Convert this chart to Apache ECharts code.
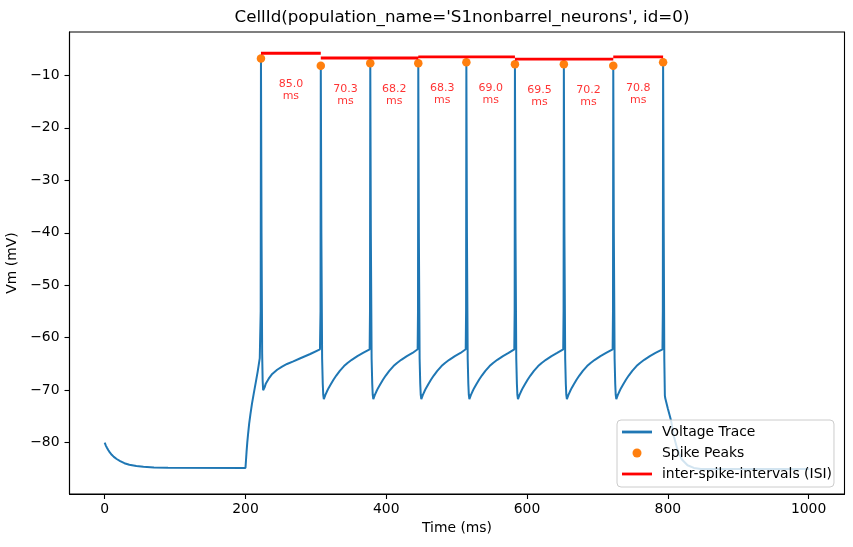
<!DOCTYPE html>
<html>
<head>
<meta charset="utf-8">
<script src="https://cdn.jsdelivr.net/npm/echarts@6/dist/echarts.min.js"></script>
<style>
  html, body { margin: 0; padding: 0; background: #fff; }
  #chart { width: 853px; height: 547px; }
</style>
</head>
<body>
<div id="chart"></div>
<script>
// spike times (ms) and peak voltages (mV)
const spikeTimes = [222.0, 307.0, 377.3, 445.5, 513.8, 582.8, 652.3, 722.5, 793.3];
const spikePeaks = [-6.8, -8.2, -7.7, -7.7, -7.5, -7.9, -7.9, -8.2, -7.5];

const xTicks = [0, 200, 400, 600, 800, 1000];
const yTicks = [-80, -70, -60, -50, -40, -30, -20, -10];

// voltage trace [t (ms), Vm (mV)]
const trace = [
  [0, -80], [1.5, -80.5], [3, -80.9], [5, -81.4], [7, -81.8], [10, -82.3], [13, -82.7], [17, -83.1], [22, -83.5], [28, -83.9], [35, -84.2], [45, -84.45], [55, -84.6], [70, -84.7], [90, -84.77], [200, -84.8],
  [200.8, -83.2], [201.6, -81.6], [202.6, -79.9], [203.8, -78.2], [205.2, -76.4], [207, -74.6], [209.2, -72.6], [211.8, -70.6], [214.5, -68.6], [217.4, -66.4], [220.3, -63.9],
  [221.6, -55], [222.0, -6.8], [222.8, -40], [223.7, -63], [224.4, -68.2], [225.1, -70.0], [225.9, -69.9], [227, -69.5], [229, -68.7], [233, -67.8], [238, -66.9], [245, -66.1], [252, -65.5], [259, -65.0], [268, -64.5], [278, -63.9], [292, -63.1], [305.8, -62.2],
  [306.6, -55], [307.0, -8.2], [307.8, -40], [308.9, -64], [309.8, -68.8], [310.5, -70.9], [311.3, -71.7], [312.2, -71.4], [313.5, -70.9], [315.5, -70.3], [318, -69.6], [321, -68.9], [325, -68.0], [329, -67.2], [334, -66.3], [340, -65.4], [345, -64.8], [351, -64.2], [359, -63.5], [367, -62.9], [376.4, -62.2],
  [376.9, -55], [377.3, -7.7], [378.1, -40], [379.2, -64], [380.1, -68.8], [380.8, -70.9], [381.6, -71.7], [382.5, -71.4], [383.8, -70.9], [385.8, -70.3], [388.3, -69.6], [391.3, -68.9], [395.3, -68.0], [399.3, -67.2], [404.3, -66.3], [410.3, -65.4], [415.3, -64.8], [421.3, -64.2], [429.3, -63.5], [437.3, -62.9], [444.6, -62.2],
  [445.1, -55], [445.5, -7.7], [446.3, -40], [447.4, -64], [448.3, -68.8], [449.0, -70.9], [449.8, -71.7], [450.7, -71.4], [452.0, -70.9], [454.0, -70.3], [456.5, -69.6], [459.5, -68.9], [463.5, -68.0], [467.5, -67.2], [472.5, -66.3], [478.5, -65.4], [483.5, -64.8], [489.5, -64.2], [497.5, -63.5], [505.5, -62.9], [512.9, -62.2],
  [513.4, -55], [513.8, -7.5], [514.6, -40], [515.7, -64], [516.6, -68.8], [517.3, -70.9], [518.1, -71.7], [519.0, -71.4], [520.3, -70.9], [522.3, -70.3], [524.8, -69.6], [527.8, -68.9], [531.8, -68.0], [535.8, -67.2], [540.8, -66.3], [546.8, -65.4], [551.8, -64.8], [557.8, -64.2], [565.8, -63.5], [573.8, -62.9], [581.9, -62.2],
  [582.4, -55], [582.8, -7.9], [583.6, -40], [584.7, -64], [585.6, -68.8], [586.3, -70.9], [587.1, -71.7], [588.0, -71.4], [589.3, -70.9], [591.3, -70.3], [593.8, -69.6], [596.8, -68.9], [600.8, -68.0], [604.8, -67.2], [609.8, -66.3], [615.8, -65.4], [620.8, -64.8], [626.8, -64.2], [634.8, -63.5], [642.8, -62.9], [651.4, -62.2],
  [651.9, -55], [652.3, -7.9], [653.1, -40], [654.2, -64], [655.1, -68.8], [655.8, -70.9], [656.6, -71.7], [657.5, -71.4], [658.8, -70.9], [660.8, -70.3], [663.3, -69.6], [666.3, -68.9], [670.3, -68.0], [674.3, -67.2], [679.3, -66.3], [685.3, -65.4], [690.3, -64.8], [696.3, -64.2], [704.3, -63.5], [712.3, -62.9], [721.6, -62.2],
  [722.1, -55], [722.5, -8.2], [723.3, -40], [724.4, -64], [725.3, -68.8], [726.0, -70.9], [726.8, -71.7], [727.7, -71.4], [729.0, -70.9], [731.0, -70.3], [733.5, -69.6], [736.5, -68.9], [740.5, -68.0], [744.5, -67.2], [749.5, -66.3], [755.5, -65.4], [760.5, -64.8], [766.5, -64.2], [774.5, -63.5], [782.5, -62.9], [792.4, -62.2],
  [792.9, -55], [793.3, -7.5], [794.2, -40], [795.0, -64], [795.8, -71.0], [796.3, -71.5], [797, -71.6], [800, -73.5], [804.5, -75.7], [808, -78.5], [813.4, -81.2], [820, -83.2], [828, -84.3], [837, -84.8], [847, -85.0], [1001, -85.0]
];

const isiLines = [];
const isiLabels = [];
for (let i = 0; i < spikeTimes.length - 1; i++) {
  const h = Math.max(spikePeaks[i], spikePeaks[i + 1]) + 1;
  isiLines.push([spikeTimes[i], h], [spikeTimes[i + 1], h], [spikeTimes[i + 1], null]);
  isiLabels.push({
    name: (spikeTimes[i + 1] - spikeTimes[i]).toFixed(1) + '\nms',
    value: [(spikeTimes[i] + spikeTimes[i + 1]) / 2, h - 7]
  });
}
const peaks = spikeTimes.map((t, i) => [t, spikePeaks[i]]);

const font = 'DejaVu Sans, sans-serif';
const minus = v => String(v).replace('-', '\u2212');
const lineIcon = 'path://M0,0H30V2.8H0Z';

const chart = echarts.init(document.getElementById('chart'));
chart.setOption({
  animation: false,
  backgroundColor: '#fff',
  textStyle: { fontFamily: font },
  title: {
    text: "CellId(population_name='S1nonbarrel_neurons', id=0)",
    left: 457, top: 4, textAlign: 'center',
    textStyle: { fontFamily: font, fontSize: 16.7, fontWeight: 'normal', color: '#000' }
  },
  grid: {
    left: 69.5, right: 8.5, top: 32, bottom: 53,
    containLabel: false, outerBoundsMode: 'none',
    show: true, borderColor: '#000', borderWidth: 1.1, backgroundColor: 'transparent'
  },
  legend: {
    orient: 'vertical', left: 617, top: 420,
    data: [
      { name: 'Voltage Trace', icon: lineIcon },
      { name: 'Spike Peaks', icon: 'circle' },
      { name: 'inter-spike-intervals (ISI)', icon: lineIcon }
    ],
    itemWidth: 30, itemHeight: 9, itemGap: 7,
    padding: [5, 2, 6, 5],
    backgroundColor: 'rgba(255,255,255,0.8)', borderColor: '#ccc', borderWidth: 1, borderRadius: 4,
    textStyle: { fontFamily: font, fontSize: 13.9, color: '#000', lineHeight: 14, padding: [0, 0, 0, 5] }
  },
  xAxis: {
    type: 'value', min: -50, max: 1051,
    name: 'Time (ms)', nameLocation: 'middle', nameGap: 26,
    nameTextStyle: { fontFamily: font, fontSize: 13.9, color: '#000' },
    axisLine: { show: true, onZero: false, lineStyle: { color: '#000', width: 1.1 } },
    axisTick: { show: true, inside: false, length: 5, lineStyle: { color: '#000', width: 1.1 }, customValues: xTicks },
    axisLabel: { fontFamily: font, fontSize: 13.9, color: '#000', margin: 8, customValues: xTicks, formatter: minus },
    splitLine: { show: false }
  },
  yAxis: {
    type: 'value', min: -89.77, max: -1.75,
    name: 'Vm (mV)', nameLocation: 'middle', nameGap: 45,
    nameTextStyle: { fontFamily: font, fontSize: 13.9, color: '#000' },
    axisLine: { show: true, onZero: false, lineStyle: { color: '#000', width: 1.1 } },
    axisTick: { show: true, inside: false, length: 5, lineStyle: { color: '#000', width: 1.1 }, customValues: yTicks },
    axisLabel: { fontFamily: font, fontSize: 13.9, color: '#000', margin: 10, customValues: yTicks, formatter: minus },
    splitLine: { show: false }
  },
  series: [
    {
      name: 'Voltage Trace', type: 'line', data: trace,
      symbol: 'none', smooth: false, sampling: null,
      lineStyle: { color: '#1f77b4', width: 2 }, itemStyle: { color: '#1f77b4' },
      z: 2
    },
    {
      name: 'Spike Peaks', type: 'scatter', data: peaks,
      symbol: 'circle', symbolSize: 8.5,
      itemStyle: { color: '#ff7f0e', opacity: 1 },
      z: 3
    },
    {
      name: 'inter-spike-intervals (ISI)', type: 'line', data: isiLines,
      symbol: 'none', connectNulls: false,
      lineStyle: { color: '#ff0000', width: 2.8 }, itemStyle: { color: '#ff0000' },
      z: 4
    },
    {
      name: 'isi-text', type: 'scatter', data: isiLabels,
      symbolSize: 0, silent: true,
      label: {
        show: true, position: 'inside', formatter: '{b}',
        fontFamily: font, fontSize: 11, lineHeight: 12, color: '#ff0000', align: 'center'
      },
      z: 5
    }
  ]
});
</script>
</body>
</html>
